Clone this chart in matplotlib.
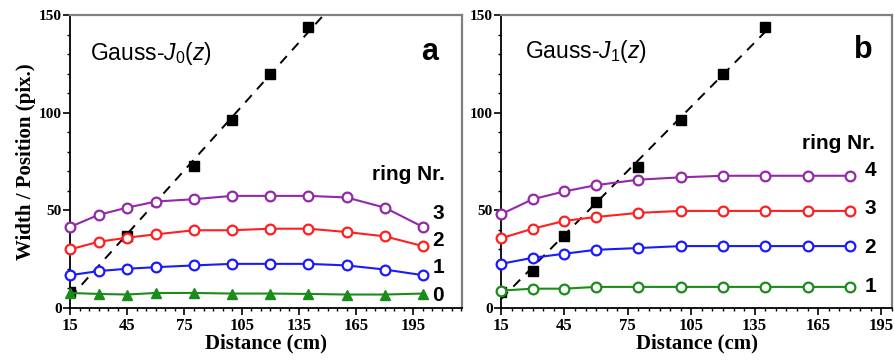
import numpy as np
import matplotlib
matplotlib.use('Agg')
import matplotlib.pyplot as plt
import matplotlib.ticker as ticker

plt.rcParams['mathtext.fontset'] = 'custom'
plt.rcParams['mathtext.rm'] = 'Liberation Sans'
plt.rcParams['mathtext.it'] = 'Liberation Sans:italic'

# ---- panel a: Gauss-J0(z) ----
dist_a = [15, 30, 45, 60, 80, 100, 120, 140, 160, 180, 200]
ring0_a = [7.7, 7.2, 6.9, 7.7, 7.7, 7.4, 7.4, 7.2, 6.9, 6.9, 7.4]
ring1_a = [16.8, 18.9, 20.1, 20.9, 21.8, 22.6, 22.6, 22.6, 21.8, 19.7, 16.8]
ring2_a = [30.0, 33.9, 36.0, 37.7, 39.8, 39.8, 40.6, 40.6, 38.9, 36.7, 31.7]
ring3_a = [41.5, 47.7, 51.4, 54.5, 55.7, 57.4, 57.4, 57.4, 56.6, 51.4, 41.5]

# ---- panel b: Gauss-J1(z) ----
dist_b = [15, 30, 45, 60, 80, 100, 120, 140, 160, 180]
ring1_b = [8.9, 9.9, 9.9, 10.8, 10.8, 10.8, 10.8, 10.8, 10.8, 10.8]
ring2_b = [22.6, 25.7, 27.8, 29.8, 30.7, 31.7, 31.7, 31.7, 31.7, 31.7]
ring3_b = [35.7, 40.6, 44.6, 46.6, 48.7, 49.7, 49.7, 49.7, 49.7, 49.7]
ring4_b = [48.0, 55.7, 59.7, 62.9, 65.7, 66.9, 67.7, 67.7, 67.7, 67.7]

# beam width (black squares)
dist_wa = [15, 45, 80, 100, 120, 140]
width_a = [8.0, 37.0, 72.5, 96.3, 120.0, 144.0]
dist_wb = [15, 30, 45, 60, 80, 100, 120, 140]
width_b = [8.4, 19.2, 36.7, 54.5, 72.3, 96.0, 120.0, 144.0]

colors = {'purple': '#9328a8', 'red': '#ff1f1f', 'blue': '#1a1aff', 'green': '#1a8c1a'}

serif = 'Liberation Serif'
sans = 'Liberation Sans'

fig = plt.figure(figsize=(8.95, 3.61), dpi=100)
ax_a = fig.add_axes([0.0782, 0.1468, 0.438, 0.8116])
ax_b = fig.add_axes([0.5598, 0.1468, 0.4369, 0.8116])


def ring(ax, x, y, c, marker='o'):
    if marker == '^':
        ax.plot(x, y, color=c, marker='^', markersize=7, linewidth=1.5,
                markerfacecolor=c, markeredgecolor=c, clip_on=False, zorder=3)
    else:
        ax.plot(x, y, color=c, marker='o', markersize=7, linewidth=1.5,
                markerfacecolor='white', markeredgecolor=c, markeredgewidth=1.6,
                clip_on=False, zorder=3)


def width_line(ax, x, y, x_end):
    # linear fit through the width points
    k, b = np.polyfit(x, y, 1)
    xx = np.array([x[0], x_end])
    ax.plot(xx, k * xx + b, color='k', linestyle=(0, (5, 4)), linewidth=1.4, zorder=2)
    ax.plot(x, y, linestyle='none', marker='s', markersize=6.5, color='k', zorder=2)


def style(ax, xmax):
    ax.set_xlim(15, xmax)
    ax.set_ylim(0, 150)
    ax.xaxis.set_major_locator(ticker.FixedLocator(range(15, 200, 30)))
    ax.xaxis.set_minor_locator(ticker.MultipleLocator(5))
    ax.yaxis.set_major_locator(ticker.MultipleLocator(50))
    ax.yaxis.set_minor_locator(ticker.MultipleLocator(10))
    ax.tick_params(which='major', direction='out', length=5, width=1.2)
    ax.tick_params(which='minor', direction='out', length=2.5, width=1.0)
    for t in ax.get_xticklabels():
        t.set_fontfamily(serif)
        t.set_fontweight('bold')
        t.set_fontsize(12)
    for t in ax.get_yticklabels():
        t.set_fontfamily(serif)
        t.set_fontweight('bold')
        t.set_fontsize(11)
    ax.tick_params(axis='y', pad=1)
    ax.tick_params(axis='x', pad=2)
    for s in ['top', 'right']:
        ax.spines[s].set_color('#808080')
        ax.spines[s].set_linewidth(1.6)
    for s in ['left', 'bottom']:
        ax.spines[s].set_color('k')
        ax.spines[s].set_linewidth(1.3)
    ax.set_xlabel('Distance (cm)', family=serif, fontweight='bold', fontsize=15, labelpad=0)


# panel a
width_line(ax_a, dist_wa, width_a, 150)
ring(ax_a, dist_a, ring3_a, colors['purple'])
ring(ax_a, dist_a, ring2_a, colors['red'])
ring(ax_a, dist_a, ring1_a, colors['blue'])
ring(ax_a, dist_a, ring0_a, colors['green'], marker='^')
style(ax_a, 220.5)
ax_a.set_ylabel('Width / Position (pix.)', family=serif, fontweight='bold', fontsize=15, labelpad=2)
ax_a.text(0.051, 0.87, r'Gauss-$\mathit{J}_{\mathrm{0}}(\mathit{z})$', transform=ax_a.transAxes,
          family=sans, fontsize=16.5, va='center', ha='left')
ax_a.text(0.918, 0.875, 'a', transform=ax_a.transAxes, family=sans, fontweight='bold',
          fontsize=22, va='center', ha='center')
ax_a.text(0.957, 0.454, 'ring Nr.', transform=ax_a.transAxes, family=sans, fontweight='bold',
          fontsize=15, va='center', ha='right')
for lab, yy in zip(['3', '2', '1', '0'], [0.324, 0.232, 0.137, 0.044]):
    ax_a.text(0.9388, yy, lab, transform=ax_a.transAxes, family=sans, fontweight='bold',
              fontsize=15, va='center', ha='center')

# panel b
width_line(ax_b, dist_wb, width_b, 140)
ring(ax_b, dist_b, ring4_b, colors['purple'])
ring(ax_b, dist_b, ring3_b, colors['red'])
ring(ax_b, dist_b, ring2_b, colors['blue'])
ring(ax_b, dist_b, ring1_b, colors['green'])
style(ax_b, 200)
ax_b.text(0.061, 0.874, r'Gauss-$\mathit{J}_{\mathrm{1}}(\mathit{z})$', transform=ax_b.transAxes,
          family=sans, fontsize=16.5, va='center', ha='left')
ax_b.text(0.926, 0.88, 'b', transform=ax_b.transAxes, family=sans, fontweight='bold',
          fontsize=22, va='center', ha='center')
ax_b.text(0.957, 0.563, 'ring Nr.', transform=ax_b.transAxes, family=sans, fontweight='bold',
          fontsize=15, va='center', ha='right')
for lab, yy in zip(['4', '3', '2', '1'], [0.471, 0.341, 0.208, 0.075]):
    ax_b.text(0.944, yy, lab, transform=ax_b.transAxes, family=sans, fontweight='bold',
              fontsize=15, va='center', ha='center')

plt.savefig('out.png', dpi=100)
